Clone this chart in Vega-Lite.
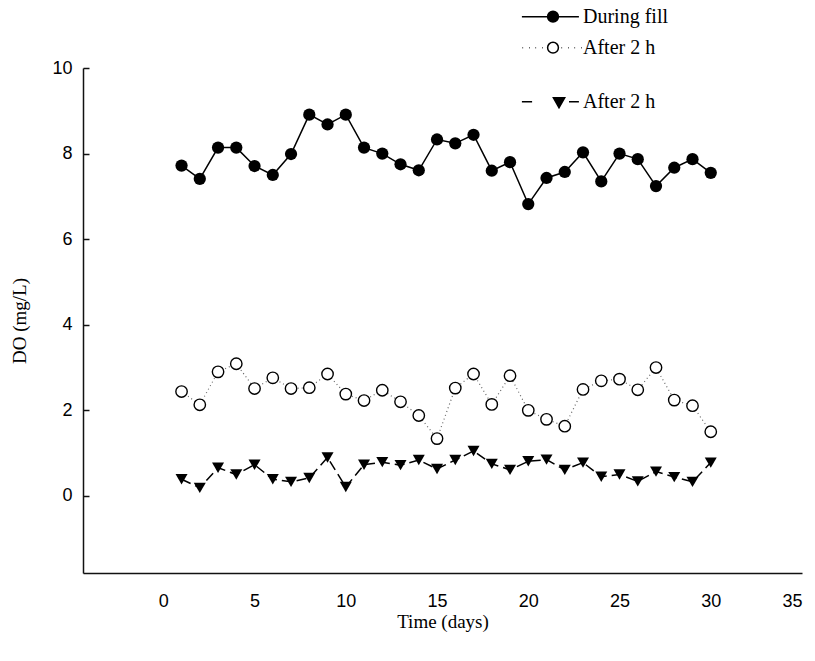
{
  "$schema": "https://vega.github.io/schema/vega-lite/v6.json",
  "width": 719,
  "height": 505,
  "autosize": "none",
  "padding": {"left": 83, "top": 68, "right": 13, "bottom": 88},
  "background": "white",
  "config": {
    "view": {"stroke": null},
    "axis": {
      "grid": false,
      "domainColor": "#111",
      "domainWidth": 1.5,
      "tickColor": "#111",
      "tickWidth": 1.5,
      "labelFont": "Liberation Sans",
      "labelFontSize": 18,
      "labelColor": "black",
      "titleFont": "Liberation Serif",
      "titleFontSize": 19,
      "titleFontWeight": "normal",
      "titleColor": "black"
    },
    "legend": {
      "labelFont": "Liberation Serif",
      "labelFontSize": 20,
      "labelColor": "black",
      "labelOffset": 1,
      "padding": 0,
      "symbolSize": 3600
    }
  },
  "data": {
    "values": [
      {"day": 1, "series": "During fill", "DO": 7.72},
      {"day": 2, "series": "During fill", "DO": 7.41},
      {"day": 3, "series": "During fill", "DO": 8.14},
      {"day": 4, "series": "During fill", "DO": 8.14},
      {"day": 5, "series": "During fill", "DO": 7.71},
      {"day": 6, "series": "During fill", "DO": 7.5},
      {"day": 7, "series": "During fill", "DO": 7.99},
      {"day": 8, "series": "During fill", "DO": 8.91},
      {"day": 9, "series": "During fill", "DO": 8.68},
      {"day": 10, "series": "During fill", "DO": 8.91},
      {"day": 11, "series": "During fill", "DO": 8.14},
      {"day": 12, "series": "During fill", "DO": 8.0},
      {"day": 13, "series": "During fill", "DO": 7.75},
      {"day": 14, "series": "During fill", "DO": 7.61},
      {"day": 15, "series": "During fill", "DO": 8.33},
      {"day": 16, "series": "During fill", "DO": 8.24},
      {"day": 17, "series": "During fill", "DO": 8.44},
      {"day": 18, "series": "During fill", "DO": 7.6},
      {"day": 19, "series": "During fill", "DO": 7.8},
      {"day": 20, "series": "During fill", "DO": 6.82},
      {"day": 21, "series": "During fill", "DO": 7.43},
      {"day": 22, "series": "During fill", "DO": 7.57},
      {"day": 23, "series": "During fill", "DO": 8.03},
      {"day": 24, "series": "During fill", "DO": 7.35},
      {"day": 25, "series": "During fill", "DO": 8.0},
      {"day": 26, "series": "During fill", "DO": 7.87},
      {"day": 27, "series": "During fill", "DO": 7.24},
      {"day": 28, "series": "During fill", "DO": 7.67},
      {"day": 29, "series": "During fill", "DO": 7.87},
      {"day": 30, "series": "During fill", "DO": 7.55},
      {"day": 1, "series": "After 2 h", "DO": 2.44},
      {"day": 2, "series": "After 2 h", "DO": 2.13},
      {"day": 3, "series": "After 2 h", "DO": 2.9},
      {"day": 4, "series": "After 2 h", "DO": 3.09},
      {"day": 5, "series": "After 2 h", "DO": 2.51},
      {"day": 6, "series": "After 2 h", "DO": 2.76},
      {"day": 7, "series": "After 2 h", "DO": 2.51},
      {"day": 8, "series": "After 2 h", "DO": 2.53},
      {"day": 9, "series": "After 2 h", "DO": 2.85},
      {"day": 10, "series": "After 2 h", "DO": 2.38},
      {"day": 11, "series": "After 2 h", "DO": 2.23},
      {"day": 12, "series": "After 2 h", "DO": 2.47},
      {"day": 13, "series": "After 2 h", "DO": 2.2},
      {"day": 14, "series": "After 2 h", "DO": 1.88},
      {"day": 15, "series": "After 2 h", "DO": 1.34},
      {"day": 16, "series": "After 2 h", "DO": 2.52},
      {"day": 17, "series": "After 2 h", "DO": 2.85},
      {"day": 18, "series": "After 2 h", "DO": 2.14},
      {"day": 19, "series": "After 2 h", "DO": 2.81},
      {"day": 20, "series": "After 2 h", "DO": 2.0},
      {"day": 21, "series": "After 2 h", "DO": 1.79},
      {"day": 22, "series": "After 2 h", "DO": 1.63},
      {"day": 23, "series": "After 2 h", "DO": 2.49},
      {"day": 24, "series": "After 2 h", "DO": 2.69},
      {"day": 25, "series": "After 2 h", "DO": 2.73},
      {"day": 26, "series": "After 2 h", "DO": 2.48},
      {"day": 27, "series": "After 2 h", "DO": 3.0},
      {"day": 28, "series": "After 2 h", "DO": 2.24},
      {"day": 29, "series": "After 2 h", "DO": 2.11},
      {"day": 30, "series": "After 2 h", "DO": 1.5},
      {"day": 1, "series": "After 2 h (triangles)", "DO": 0.39},
      {"day": 2, "series": "After 2 h (triangles)", "DO": 0.19},
      {"day": 3, "series": "After 2 h (triangles)", "DO": 0.66},
      {"day": 4, "series": "After 2 h (triangles)", "DO": 0.5},
      {"day": 5, "series": "After 2 h (triangles)", "DO": 0.73},
      {"day": 6, "series": "After 2 h (triangles)", "DO": 0.39},
      {"day": 7, "series": "After 2 h (triangles)", "DO": 0.33},
      {"day": 8, "series": "After 2 h (triangles)", "DO": 0.42},
      {"day": 9, "series": "After 2 h (triangles)", "DO": 0.9},
      {"day": 10, "series": "After 2 h (triangles)", "DO": 0.21},
      {"day": 11, "series": "After 2 h (triangles)", "DO": 0.73},
      {"day": 12, "series": "After 2 h (triangles)", "DO": 0.79},
      {"day": 13, "series": "After 2 h (triangles)", "DO": 0.72},
      {"day": 14, "series": "After 2 h (triangles)", "DO": 0.84},
      {"day": 15, "series": "After 2 h (triangles)", "DO": 0.63},
      {"day": 16, "series": "After 2 h (triangles)", "DO": 0.84},
      {"day": 17, "series": "After 2 h (triangles)", "DO": 1.05},
      {"day": 18, "series": "After 2 h (triangles)", "DO": 0.75},
      {"day": 19, "series": "After 2 h (triangles)", "DO": 0.61},
      {"day": 20, "series": "After 2 h (triangles)", "DO": 0.81},
      {"day": 21, "series": "After 2 h (triangles)", "DO": 0.85},
      {"day": 22, "series": "After 2 h (triangles)", "DO": 0.61},
      {"day": 23, "series": "After 2 h (triangles)", "DO": 0.78},
      {"day": 24, "series": "After 2 h (triangles)", "DO": 0.45},
      {"day": 25, "series": "After 2 h (triangles)", "DO": 0.5},
      {"day": 26, "series": "After 2 h (triangles)", "DO": 0.34},
      {"day": 27, "series": "After 2 h (triangles)", "DO": 0.57},
      {"day": 28, "series": "After 2 h (triangles)", "DO": 0.44},
      {"day": 29, "series": "After 2 h (triangles)", "DO": 0.33},
      {"day": 30, "series": "After 2 h (triangles)", "DO": 0.78}
    ]
  },
  "encoding": {
    "x": {
      "field": "day",
      "type": "quantitative",
      "scale": {"domain": [-4.4, 35], "nice": false, "zero": false},
      "axis": {
        "title": "Time (days)",
        "values": [0, 5, 10, 15, 20, 25, 30, 35],
        "ticks": false,
        "labelPadding": 19,
        "titlePadding": 2
      }
    },
    "y": {
      "field": "DO",
      "type": "quantitative",
      "scale": {"domain": [-1.8, 10], "nice": false, "zero": false},
      "axis": {
        "title": "DO (mg/L)",
        "values": [0, 2, 4, 6, 8, 10],
        "tickSize": -6,
        "labelPadding": 17,
        "titlePadding": 22
      }
    }
  },
  "layer": [
    {
      "transform": [{"filter": "datum.series === 'After 2 h (triangles)'"}],
      "mark": {"type": "line", "color": "black", "strokeWidth": 1.5, "strokeDash": [10, 5]}
    },
    {
      "transform": [{"filter": "datum.series === 'After 2 h'"}],
      "mark": {"type": "line", "color": "#666", "strokeWidth": 1.2, "strokeDash": [1, 3]}
    },
    {
      "transform": [{"filter": "datum.series === 'During fill'"}],
      "mark": {"type": "line", "color": "black", "strokeWidth": 1.5}
    },
    {
      "transform": [{"filter": "datum.series === 'After 2 h (triangles)'"}],
      "mark": {"type": "point", "shape": "triangle-down", "filled": true, "size": 144, "opacity": 1},
      "encoding": {
        "fill": {
          "field": "series",
          "type": "nominal",
          "scale": {"range": ["black"]},
          "legend": {
            "orient": "none",
            "legendX": 437,
            "legendY": 2.7,
            "title": null,
            "labelExpr": "'After 2 h'",
            "symbolType": "M-0.97,0H-0.63M0.08,-0.133H0.457L0.267,0.2ZM0.6,0H0.93",
            "symbolStrokeColor": "black",
            "symbolStrokeWidth": 1.5,
            "symbolFillColor": "black",
            "encode": {
              "symbols": {
                "update": {
                  "fill": {"value": "black"},
                  "stroke": {"value": "black"},
                  "strokeWidth": {"value": 1.5},
                  "opacity": {"value": 1},
                  "shape": {"value": "M-0.97,0H-0.63M0.08,-0.133H0.457L0.267,0.2ZM0.6,0H0.93"},
                  "size": {"value": 3600}
                }
              }
            }
          }
        }
      }
    },
    {
      "transform": [{"filter": "datum.series === 'After 2 h'"}],
      "mark": {"type": "point", "shape": "circle", "filled": true, "size": 130, "opacity": 1, "stroke": "black", "strokeWidth": 1.4},
      "encoding": {
        "fill": {
          "field": "series",
          "type": "nominal",
          "scale": {"range": ["white"]},
          "legend": {
            "orient": "none",
            "legendX": 437,
            "legendY": -51.3,
            "title": null,
            "symbolType": "M0.247,0A0.18,0.18,0,1,1,-0.113,0A0.18,0.18,0,1,1,0.247,0ZM-0.95,0H-0.93M-0.733,0H-0.713M-0.517,0H-0.497M-0.3,0H-0.28M0.35,0H0.37M0.567,0H0.587M0.783,0H0.803M1.0,0H1.02",
            "encode": {
              "symbols": {
                "update": {
                  "fill": {"value": "white"},
                  "opacity": {"value": 1},
                  "shape": {"value": "M0.247,0A0.18,0.18,0,1,1,-0.113,0A0.18,0.18,0,1,1,0.247,0ZM-0.95,0H-0.93M-0.733,0H-0.713M-0.517,0H-0.497M-0.3,0H-0.28M0.35,0H0.37M0.567,0H0.587M0.783,0H0.803M1.0,0H1.02"},
                  "size": {"value": 3600}
                }
              }
            }
          }
        }
      }
    },
    {
      "transform": [{"filter": "datum.series === 'During fill'"}],
      "mark": {"type": "point", "shape": "circle", "filled": true, "size": 150, "opacity": 1},
      "encoding": {
        "fill": {
          "field": "series",
          "type": "nominal",
          "scale": {"range": ["black"]},
          "legend": {
            "orient": "none",
            "legendX": 437,
            "legendY": -82.3,
            "title": null,
            "symbolType": "M-0.97,0H0.93M0.247,0A0.18,0.18,0,1,1,-0.113,0A0.18,0.18,0,1,1,0.247,0Z",
            "symbolStrokeColor": "black",
            "symbolStrokeWidth": 1.5,
            "symbolFillColor": "black",
            "encode": {
              "symbols": {
                "update": {
                  "fill": {"value": "black"},
                  "stroke": {"value": "black"},
                  "strokeWidth": {"value": 1.5},
                  "opacity": {"value": 1},
                  "shape": {"value": "M-0.97,0H0.93M0.247,0A0.18,0.18,0,1,1,-0.113,0A0.18,0.18,0,1,1,0.247,0Z"},
                  "size": {"value": 3600}
                }
              }
            }
          }
        }
      }
    }
  ],
  "resolve": {"scale": {"fill": "independent"}, "legend": {"fill": "independent"}}
}
